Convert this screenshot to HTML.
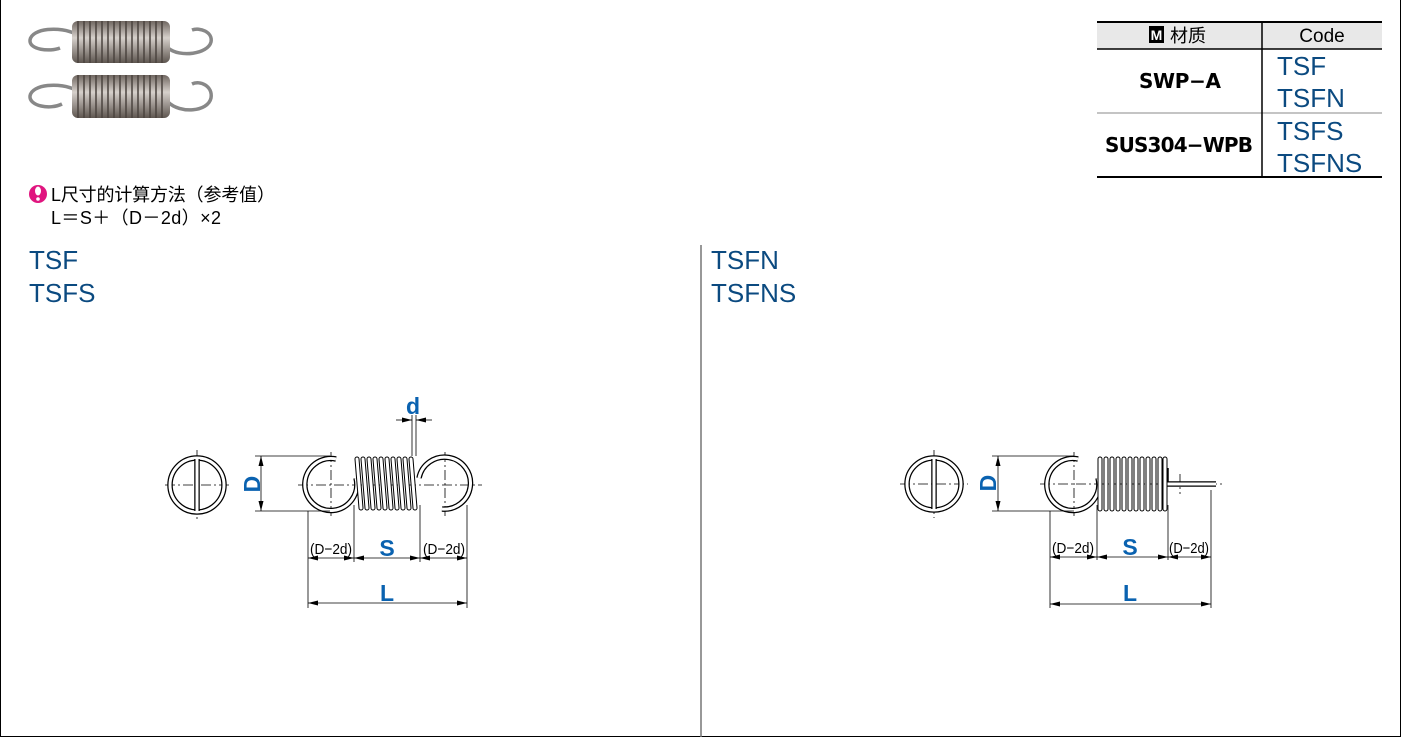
<!DOCTYPE html>
<html><head><meta charset="utf-8"><style>
html,body{margin:0;padding:0;background:#fff}
body{width:1401px;height:737px;position:relative;overflow:hidden;font-family:"Liberation Sans","Noto Sans CJK SC",sans-serif}
.t{position:absolute;color:#0b4a80;font-size:26px;line-height:33px}
</style></head><body>
<svg width="1401" height="737" style="position:absolute;left:0;top:0" xmlns="http://www.w3.org/2000/svg">
<defs>
<linearGradient id="g" x1="0" y1="0" x2="0" y2="1"><stop offset="0" stop-color="#6f6660"/><stop offset="0.4" stop-color="#d6d0cb"/><stop offset="1" stop-color="#5e5650"/></linearGradient>
<marker id="a" markerWidth="10" markerHeight="6" refX="10" refY="3" orient="auto-start-reverse" markerUnits="userSpaceOnUse"><path d="M0,0.5 L10,3 L0,5.5z" fill="#000"/></marker>
</defs>
<line x1="0.5" y1="0" x2="0.5" y2="737" stroke="#000"/>
<line x1="1400.5" y1="0" x2="1400.5" y2="737" stroke="#000"/>
<line x1="0" y1="736.5" x2="1401" y2="736.5" stroke="#000"/>
<line x1="701" y1="245" x2="701" y2="737" stroke="#777" stroke-width="1.5"/>
<!-- photos -->
<g fill="none" stroke="#888" stroke-width="3.5">
<path d="M76,34 C60,26 32,28 30,40 C29,50 50,52 60,48"/>
<path d="M168,48 C180,58 208,54 211,42 C213,32 200,27 192,30"/>
<path d="M76,90 C60,82 32,84 30,96 C29,106 50,110 62,104"/>
<path d="M168,102 C180,114 208,112 211,98 C213,86 200,80 192,84"/>
</g>
<rect x="72" y="21" width="98" height="42" rx="6" fill="url(#g)"/>
<rect x="72" y="75" width="98" height="43" rx="6" fill="url(#g)"/>
<g stroke="#4a433e" stroke-width="1.5">
<path d="M78,21v42M84,21v42M90,21v42M96,21v42M102,21v42M108,21v42M114,21v42M120,21v42M126,21v42M132,21v42M138,21v42M144,21v42M150,21v42M156,21v42M162,21v42"/>
<path d="M78,75v43M84,75v43M90,75v43M96,75v43M102,75v43M108,75v43M114,75v43M120,75v43M126,75v43M132,75v43M138,75v43M144,75v43M150,75v43M156,75v43M162,75v43"/>
</g>
<!-- table -->
<rect x="1097" y="22" width="285" height="27" fill="#e8e8e8"/>
<g stroke="#000" stroke-width="2"><line x1="1097" y1="22" x2="1382" y2="22"/><line x1="1097" y1="177" x2="1382" y2="177"/></g>
<line x1="1097" y1="49" x2="1382" y2="49" stroke="#000" stroke-width="1.5"/>
<line x1="1097" y1="113" x2="1382" y2="113" stroke="#888" stroke-width="1"/>
<line x1="1262" y1="22" x2="1262" y2="177" stroke="#000" stroke-width="1.5"/>
<rect x="1149" y="26" width="15" height="17" fill="#000"/>
<text x="1156.5" y="40" font-size="14" font-weight="bold" fill="#fff" text-anchor="middle" font-family="Liberation Sans">M</text>
<text x="1170" y="42" font-size="18" font-family="Liberation Sans,Noto Sans CJK SC,sans-serif">材质</text>
<text x="1322" y="42" font-size="19" text-anchor="middle" font-family="Liberation Sans">Code</text>
<text x="1180" y="88" font-size="20" font-weight="bold" text-anchor="middle" font-family="DejaVu Sans,sans-serif" textLength="82">SWP−A</text>
<text x="1179" y="152" font-size="20" font-weight="bold" text-anchor="middle" font-family="DejaVu Sans,sans-serif" textLength="148">SUS304−WPB</text>
<g fill="#0b4a80" font-size="26" font-family="Liberation Sans"><text x="1277" y="75">TSF</text><text x="1277" y="107">TSFN</text><text x="1277" y="140">TSFS</text><text x="1277" y="172">TSFNS</text></g>
<!-- note -->
<circle cx="38" cy="194" r="9" fill="#e0157f"/>
<ellipse cx="38" cy="191" rx="3" ry="4.5" fill="#fff"/><circle cx="38" cy="199" r="1.8" fill="#fff"/>
<text x="51" y="201" font-size="18" font-family="Liberation Sans,Noto Sans CJK SC,sans-serif" textLength="224">L尺寸的计算方法（参考值）</text>
<text x="51" y="224" font-size="18" font-family="Liberation Sans,Noto Sans CJK SC,sans-serif" textLength="170">L＝S＋（D－2d）×2</text>

<!-- LEFT DRAWING -->
<g fill="none">
<g stroke="#000" stroke-width="0.8" stroke-dasharray="10,3,2,3">
<line x1="165" y1="485" x2="230" y2="485"/><line x1="197" y1="450" x2="197" y2="520"/>
<line x1="298" y1="485" x2="482" y2="485"/><line x1="331" y1="452" x2="331" y2="517"/><line x1="445" y1="452" x2="445" y2="517"/>
</g>
<circle cx="197" cy="485" r="27" stroke="#000" stroke-width="5.5"/><circle cx="197" cy="485" r="27" stroke="#fff" stroke-width="3"/>
<path d="M197,459v52" stroke="#000" stroke-width="5.5"/><path d="M197,459v52" stroke="#fff" stroke-width="3"/>
<path d="M336,459 A26,26 0 1 0 356,478" stroke="#000" stroke-width="5.5"/>
<path d="M336,459 A26,26 0 1 0 356,478" stroke="#fff" stroke-width="3"/>
<path d="M419,478 A26,26 0 1 1 442,509" stroke="#000" stroke-width="5.5"/>
<path d="M419,478 A26,26 0 1 1 442,509" stroke="#fff" stroke-width="3"/>
<g stroke="#000" stroke-width="5" stroke-linecap="round"><path d="M357,459L361,508M363,459L367,508M369,459L373,508M375,459L379,508M381,459L385,508M387,459L391,508M393,459L397,508M399,459L403,508M405,459L409,508M411,459L415,508"/></g>
<g stroke="#fff" stroke-width="3" stroke-linecap="round"><path d="M357,459L361,508M363,459L367,508M369,459L373,508M375,459L379,508M381,459L385,508M387,459L391,508M393,459L397,508M399,459L403,508M405,459L409,508M411,459L415,508"/></g>
<g stroke="#000" stroke-width="0.8">
<line x1="255" y1="456" x2="330" y2="456"/><line x1="255" y1="511" x2="330" y2="511"/>
<line x1="261" y1="456" x2="261" y2="511" marker-start="url(#a)" marker-end="url(#a)"/>
<line x1="412" y1="415" x2="412" y2="456"/><line x1="416" y1="415" x2="416" y2="456"/>
<line x1="396" y1="420" x2="412" y2="420" marker-end="url(#a)"/><line x1="432" y1="420" x2="416" y2="420" marker-end="url(#a)"/>
<line x1="308" y1="511" x2="308" y2="608"/><line x1="354" y1="505" x2="354" y2="562"/><line x1="420" y1="505" x2="420" y2="562"/><line x1="467" y1="505" x2="467" y2="608"/>
<line x1="308" y1="558" x2="354" y2="558" marker-start="url(#a)" marker-end="url(#a)"/>
<line x1="354" y1="558" x2="420" y2="558" marker-start="url(#a)" marker-end="url(#a)"/>
<line x1="420" y1="558" x2="467" y2="558" marker-start="url(#a)" marker-end="url(#a)"/>
<line x1="308" y1="603" x2="467" y2="603" marker-start="url(#a)" marker-end="url(#a)"/>
</g>
</g>
<g font-family="Liberation Sans" fill="#000" font-size="15">
<text x="331" y="554" text-anchor="middle" textLength="42" lengthAdjust="spacingAndGlyphs">(D−2d)</text>
<text x="444" y="554" text-anchor="middle" textLength="42" lengthAdjust="spacingAndGlyphs">(D−2d)</text>
</g>
<g font-family="Liberation Sans" fill="#0a62b0" font-size="23" font-weight="bold">
<text x="387" y="556" text-anchor="middle">S</text>
<text x="387" y="601" text-anchor="middle">L</text>
<text x="413" y="414" text-anchor="middle">d</text>
<text transform="translate(260,484) rotate(-90)" text-anchor="middle">D</text>
</g>

<!-- RIGHT DRAWING -->
<g fill="none">
<g stroke="#000" stroke-width="0.8" stroke-dasharray="10,3,2,3">
<line x1="900" y1="484" x2="968" y2="484"/><line x1="934" y1="450" x2="934" y2="518"/>
<line x1="1040" y1="484" x2="1222" y2="484"/><line x1="1074" y1="452" x2="1074" y2="517"/><line x1="1180" y1="474" x2="1180" y2="494"/>
</g>
<ellipse cx="934" cy="484" rx="27" ry="26" stroke="#000" stroke-width="5.5"/><ellipse cx="934" cy="484" rx="27" ry="26" stroke="#fff" stroke-width="3"/>
<path d="M934,459v50" stroke="#000" stroke-width="5.5"/><path d="M934,459v50" stroke="#fff" stroke-width="3"/>
<path d="M1078,459 A26,26 0 1 0 1098,478" stroke="#000" stroke-width="5.5"/>
<path d="M1078,459 A26,26 0 1 0 1098,478" stroke="#fff" stroke-width="3"/>
<path d="M1166,468 V484 H1216" stroke="#000" stroke-width="5.5"/>
<path d="M1166,468 V484 H1216" stroke="#fff" stroke-width="3"/>
<g stroke="#000" stroke-width="5" stroke-linecap="round"><path d="M1100,459V509M1106,459V509M1112,459V509M1118,459V509M1124,459V509M1130,459V509M1136,459V509M1142,459V509M1148,459V509M1154,459V509M1160,459V509M1165,459V509"/></g>
<g stroke="#fff" stroke-width="3" stroke-linecap="round"><path d="M1100,459V509M1106,459V509M1112,459V509M1118,459V509M1124,459V509M1130,459V509M1136,459V509M1142,459V509M1148,459V509M1154,459V509M1160,459V509M1165,459V509"/></g>
<g stroke="#000" stroke-width="0.8">
<line x1="992" y1="456" x2="1074" y2="456"/><line x1="992" y1="511" x2="1074" y2="511"/>
<line x1="998" y1="456" x2="998" y2="511" marker-start="url(#a)" marker-end="url(#a)"/>
<line x1="1050" y1="511" x2="1050" y2="608"/><line x1="1097" y1="505" x2="1097" y2="560"/><line x1="1168" y1="505" x2="1168" y2="560"/><line x1="1211" y1="490" x2="1211" y2="608"/>
<line x1="1050" y1="557" x2="1097" y2="557" marker-start="url(#a)" marker-end="url(#a)"/>
<line x1="1097" y1="557" x2="1168" y2="557" marker-start="url(#a)" marker-end="url(#a)"/>
<line x1="1168" y1="557" x2="1211" y2="557" marker-start="url(#a)" marker-end="url(#a)"/>
<line x1="1050" y1="604" x2="1211" y2="604" marker-start="url(#a)" marker-end="url(#a)"/>
</g>
</g>
<g font-family="Liberation Sans" fill="#000" font-size="15">
<text x="1073" y="553" text-anchor="middle" textLength="42" lengthAdjust="spacingAndGlyphs">(D−2d)</text>
<text x="1189" y="553" text-anchor="middle" textLength="40" lengthAdjust="spacingAndGlyphs">(D−2d)</text>
</g>
<g font-family="Liberation Sans" fill="#0a62b0" font-size="23" font-weight="bold">
<text x="1130" y="555" text-anchor="middle">S</text>
<text x="1130" y="601" text-anchor="middle">L</text>
<text transform="translate(996,483) rotate(-90)" text-anchor="middle">D</text>
</g>
</svg>
<div class="t" style="left:29px;top:244px">TSF<br>TSFS</div>
<div class="t" style="left:711px;top:244px">TSFN<br>TSFNS</div>
</body></html>
